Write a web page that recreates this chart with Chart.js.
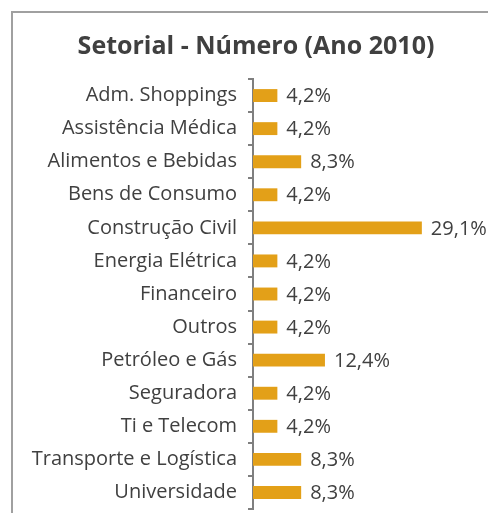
<!DOCTYPE html>
<html>
<head>
<meta charset="utf-8">
<script src="https://cdn.jsdelivr.net/npm/chart.js@4/dist/chart.umd.min.js"></script>
<style>
  html, body { margin: 0; padding: 0; background: #fff; }
  #wrap { width: 488px; height: 513px; position: relative; }
</style>
</head>
<body>
<div id="wrap"><canvas id="canvas"></canvas></div>
<script>
// MARK: Data
const chartTitle = 'Setorial - Número (Ano 2010)';
const sectors = [
  'Adm. Shoppings',
  'Assistência Médica',
  'Alimentos e Bebidas',
  'Bens de Consumo',
  'Construção Civil',
  'Energia Elétrica',
  'Financeiro',
  'Outros',
  'Petróleo e Gás',
  'Seguradora',
  'Ti e Telecom',
  'Transporte e Logística',
  'Universidade'
];
const shares = [4.2, 4.2, 8.3, 4.2, 29.1, 4.2, 4.2, 4.2, 12.4, 4.2, 4.2, 8.3, 8.3];

const textColor = '#404040';
const fontFamily = "'Open Sans', 'Noto Sans', sans-serif";

// MARK: Plugins
const frameBox = {
  id: 'frameBox',
  beforeDraw(chart) {
    const { ctx } = chart;
    ctx.save();
    ctx.fillStyle = '#a0a0a0';
    ctx.fillRect(11, 11, 2, chart.height);
    ctx.fillRect(11, 11, chart.width, 2);
    ctx.restore();
  }
};

const valueLabels = {
  id: 'valueLabels',
  afterDatasetsDraw(chart) {
    const { ctx } = chart;
    const meta = chart.getDatasetMeta(0);
    ctx.save();
    ctx.fillStyle = textColor;
    ctx.font = `20px ${fontFamily}`;
    ctx.textAlign = 'left';
    ctx.textBaseline = 'middle';
    meta.data.forEach((bar, i) => {
      const v = chart.data.datasets[0].data[i];
      ctx.fillText(v.toFixed(1).replace('.', ',') + '%', bar.x + 9, bar.y + 1);
    });
    ctx.restore();
  }
};

// MARK: Chart
const ctx = document.getElementById('canvas').getContext('2d');

const chart = new Chart(ctx, {
  type: 'bar',
  data: {
    labels: sectors,
    datasets: [{
      data: shares,
      backgroundColor: '#e3a018',
      borderWidth: 0,
      categoryPercentage: 1,
      barPercentage: 0.39
    }]
  },
  options: {
    indexAxis: 'y',
    animation: false,
    responsive: true,
    maintainAspectRatio: false,
    layout: {
      padding: { left: 24, right: 0, top: 0, bottom: 4 }
    },
    plugins: {
      legend: { display: false },
      tooltip: { enabled: false },
      title: {
        display: true,
        text: chartTitle,
        color: textColor,
        font: { family: fontFamily, size: 25, weight: 'bold', lineHeight: 1.2 },
        padding: { top: 32, bottom: 17 }
      }
    },
    scales: {
      x: {
        display: false,
        min: 0,
        max: 40.5
      },
      y: {
        z: 1,
        afterFit(scale) {
          scale.width = 229;
          // keep label half-heights from eating into the plot
          scale.paddingTop = 0;
          scale.paddingBottom = 0;
        },
        grid: {
          drawOnChartArea: false,
          drawTicks: true,
          tickLength: 5,
          color: '#7f7f7f',
          lineWidth: 2,
          offset: true
        },
        border: {
          display: true,
          color: '#7f7f7f',
          width: 2
        },
        ticks: {
          color: textColor,
          padding: 11,
          font: { family: fontFamily, size: 20 }
        }
      }
    }
  },
  plugins: [frameBox, valueLabels]
});
</script>
</body>
</html>
